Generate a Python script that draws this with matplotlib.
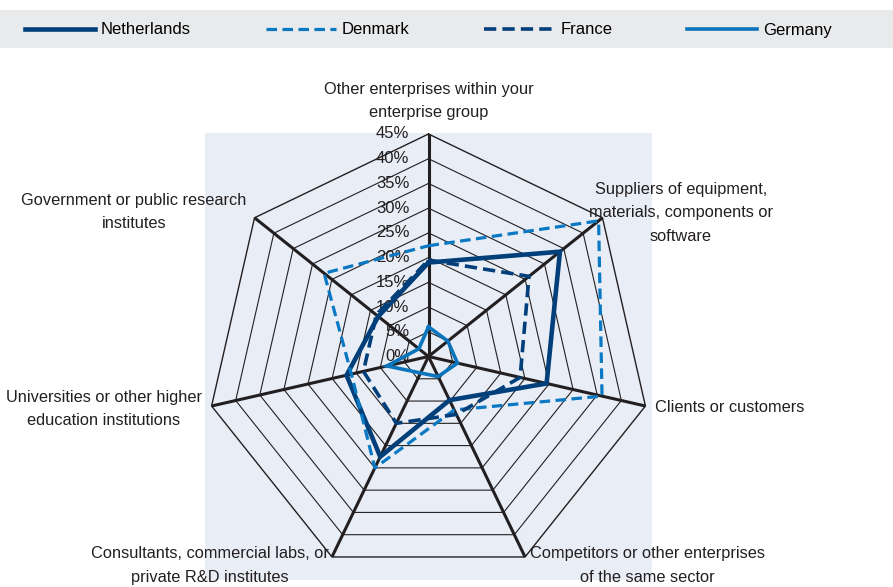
import numpy as np
import matplotlib
matplotlib.use("Agg")
import matplotlib.pyplot as plt
from matplotlib.patches import Rectangle

# ---------------- data ----------------
categories = [
    "Other enterprises within your\nenterprise group",
    "Suppliers of equipment,\nmaterials, components or\nsoftware",
    "Clients or customers",
    "Competitors or other enterprises\nof the same sector",
    "Consultants, commercial labs, or\nprivate R&D institutes",
    "Universities or other higher\neducation institutions",
    "Government or public research\ninstitutes",
]
series_names = ["Netherlands", "Denmark", "France", "Germany"]
netherlands = [19.0, 34.0, 24.5, 9.8, 22.5, 17.0, 13.0]
denmark = [22.4, 44.0, 36.0, 12.0, 25.0, 16.0, 27.0]
france = [19.5, 26.0, 19.0, 13.0, 15.0, 13.5, 13.5]
germany = [6.0, 5.0, 6.0, 4.5, 3.7, 8.6, 2.5]
tick_values = [0, 5, 10, 15, 20, 25, 30, 35, 40, 45]
tick_labels = ["0%", "5%", "10%", "15%", "20%", "25%", "30%", "35%", "40%", "45%"]

# ---------------- style ----------------
plt.rcParams["font.family"] = ["Liberation Sans", "DejaVu Sans"]
W, H = 893, 587
fig = plt.figure(figsize=(W / 100, H / 100), dpi=100)
fig.patch.set_facecolor("white")

def fx(x):
    return x / W

def fy(y):
    return 1 - y / H

INK = "#231F20"
c_nl = "#003F7A"
c_dk = "#0A78C2"
c_fr = "#003F7A"
c_de = "#0A75BC"

# plot area
ax = fig.add_axes([fx(205), fy(580), 447 / W, 447 / H])
ax.set_facecolor("#E8EDF6")
lim = max(tick_values) * 447 / 2 / 222.5
ax.set_xlim(-lim, lim)
ax.set_ylim(-lim, lim)
for s in ax.spines.values():
    s.set_visible(False)
ax.set_xticks([])
ax.set_yticks([])

n = len(categories)
angles = np.arange(n) * 2 * np.pi / n

def xy(vals):
    v = np.asarray(vals, dtype=float)
    a = np.append(angles, angles[0])
    v = np.append(v, v[0])
    return v * np.sin(a), v * np.cos(a)

# rings
for t in tick_values[1:]:
    xs, ys = xy([t] * n)
    ax.plot(xs, ys, color=INK, lw=0.8 if t < max(tick_values) else 1.0, zorder=1, clip_on=False)
# spokes
rmax = max(tick_values)
for a in angles:
    ax.plot([0, rmax * np.sin(a)], [0, rmax * np.cos(a)], color=INK, lw=2.2, zorder=2,
            solid_capstyle="butt", clip_on=False)

# tick labels
for t, lab in zip(tick_values, tick_labels):
    ax.text(-3.9, t, lab, ha="right", va="center", fontsize=12, color="#231F20", zorder=3)

# series
h_nl, = ax.plot(*xy(netherlands), color=c_nl, lw=3.3, zorder=5, solid_joinstyle="miter", clip_on=False)
h_dk, = ax.plot(*xy(denmark), color=c_dk, lw=2.3, ls=(0, (3.3, 1.7)), zorder=6, clip_on=False)
h_fr, = ax.plot(*xy(france), color=c_fr, lw=2.6, ls=(0, (3.4, 1.7)), zorder=6, clip_on=False)
h_de, = ax.plot(*xy(germany), color=c_de, lw=2.6, zorder=7, solid_joinstyle="miter", clip_on=False)

# category labels (block centres in pixel space)
label_pos = [
    (428.5, 101, "center", "center"),
    (681, 213, "center", "center"),
    (655, 408, "left", "center"),
    (647, 565.5, "center", "center"),
    (210, 565.5, "center", "center"),
    (104, 409, "center", "center"),
    (134, 212, "center", "center"),
]
for cat, (px_, py_, ha, va) in zip(categories, label_pos):
    fig.text(fx(px_), fy(py_), cat, ha=ha, va=va, multialignment="center",
             fontsize=11.8, color="#231F20", linespacing=1.7)

# legend band
fig.patches.append(Rectangle((0, fy(48)), 1, (48 - 10) / H, transform=fig.transFigure,
                             facecolor="#E9EAEC", edgecolor="none", zorder=0))
leg = fig.legend([h_nl, h_dk, h_fr, h_de], series_names, loc="center left",
                 bbox_to_anchor=(fx(10), fy(30)), ncol=4, frameon=False,
                 fontsize=12, handlelength=4.2, handletextpad=0.35, columnspacing=4.5)
plt.savefig("out.png", dpi=100, facecolor="white")
